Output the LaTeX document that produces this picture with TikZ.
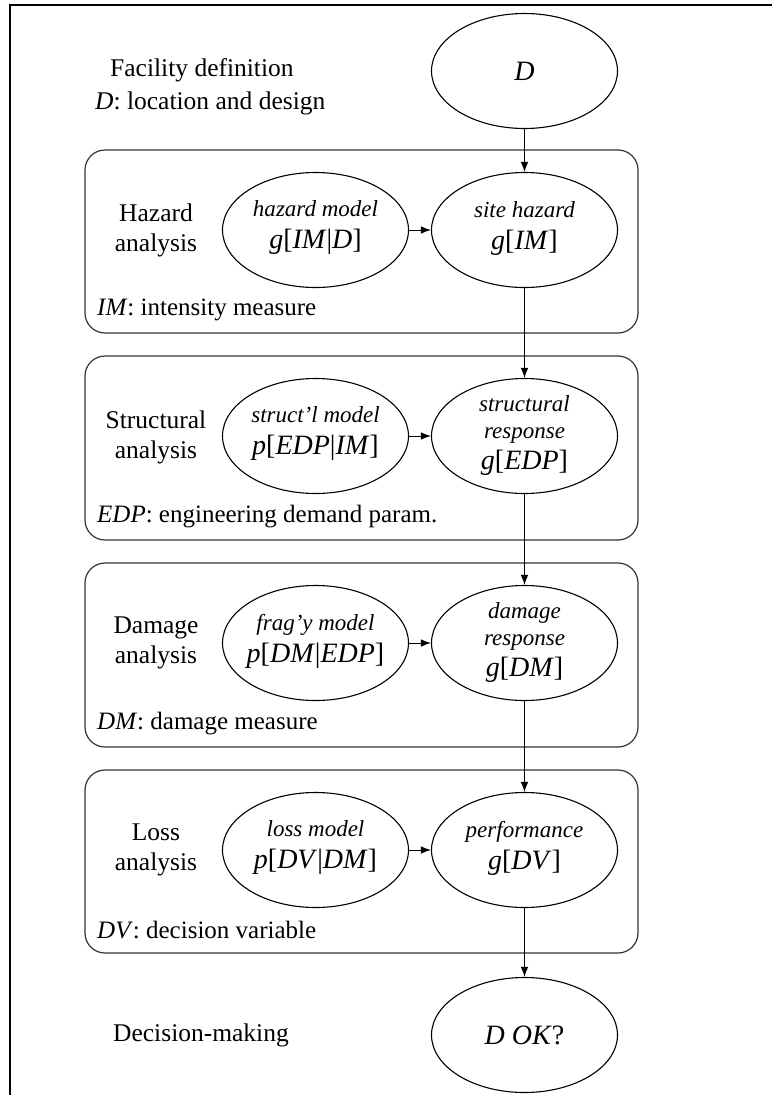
\documentclass[tikz,border=0pt]{standalone}
\usepackage{fontspec}
\setmainfont{Liberation Serif}
\usetikzlibrary{shapes.geometric,arrows.meta}
\newcommand\mdltxt[1]{{\fontsize{23}{27}\selectfont\itshape #1}}
\newcommand\fntxt[1]{{\fontsize{28}{27}\selectfont #1}}
\begin{document}
\begin{tikzpicture}[x=1pt,y=-1pt,
  stagebox/.style={draw=black!80,line width=1.2pt,rounded corners=20pt},
  ell/.style={ellipse,draw,line width=1.1pt,inner sep=0pt,minimum width=186pt,minimum height=115pt},
  etext/.style={align=center,inner sep=0pt,font=\fontsize{23}{27}\selectfont},
  lbl/.style={font=\fontsize{25.5}{30}\selectfont,align=center},
  note/.style={font=\fontsize{25}{30}\selectfont,anchor=west,inner sep=0pt},
  arr/.style={-{Latex[length=10pt,width=7.5pt]},line width=1pt}]
\useasboundingbox (0,0) rectangle (772,1095);
\draw[line width=2.7pt] (10,1095) -- (10,5) -- (772,5);

% facility
\node[note,font=\fontsize{25.5}{30}\selectfont] (fac1) at (110,70) {Facility definition};
\node[note,font=\fontsize{25.5}{30}\selectfont] (fac2) at (95,103) {\textit{D}: location and design};
\node[ell] (D) at (524.5,71) {};
\node[etext] (Dt) at (D) {\fntxt{\textit{D}}};

% hazard
\draw[stagebox] (85,150) rectangle (638,333);
\node[lbl] (hazl) at (156,230) {Hazard\\analysis};
\node[ell] (hm) at (315.5,230) {};
\node[etext] (hmt) at ([yshift=2pt]hm.center) {\mdltxt{hazard model}\\[5pt]\fntxt{\textit{g}[\textit{IM}|\textit{D}]}};
\node[ell] (sh) at (524.5,230) {};
\node[etext] (sht) at ([yshift=2pt]sh.center) {\mdltxt{site hazard}\\[5pt]\fntxt{\textit{g}[\textit{IM}]}};
\node[note] (imn) at (97,310) {\textit{IM}: intensity measure};

% structural
\draw[stagebox] (85,356) rectangle (638,540);
\node[lbl] (strl) at (156,437) {Structural\\analysis};
\node[ell] (sm) at (315.5,436) {};
\node[etext] (smt) at ([yshift=2pt]sm.center) {\mdltxt{struct'l model}\\[5pt]\fntxt{\textit{p}[\textit{EDP}|\textit{IM}]}};
\node[ell] (sr) at (524.5,436) {};
\node[etext] (srt) at ([yshift=1pt]sr.center) {\mdltxt{structural}\\\mdltxt{response}\\[4pt]\fntxt{\textit{g}[\textit{EDP}]}};
\node[note] (edpn) at (97,517) {\textit{EDP}: engineering demand param.};

% damage
\draw[stagebox] (85,563) rectangle (638,747);
\node[lbl] (daml) at (156,643) {Damage\\analysis};
\node[ell] (fm) at (315.5,643) {};
\node[etext] (fmt) at ([yshift=2pt]fm.center) {\mdltxt{frag'y model}\\[5pt]\fntxt{\textit{p}[\textit{DM}|\textit{EDP}]}};
\node[ell] (dr) at (524.5,643) {};
\node[etext] (drt) at ([yshift=1pt]dr.center) {\mdltxt{damage}\\\mdltxt{response}\\[4pt]\fntxt{\textit{g}[\textit{DM}]}};
\node[note] (dmn) at (97,724) {\textit{DM}: damage measure};

% loss
\draw[stagebox] (85,770) rectangle (638,953);
\node[lbl] (losl) at (156,850) {Loss\\analysis};
\node[ell] (lm) at (315.5,850) {};
\node[etext] (lmt) at ([yshift=2pt]lm.center) {\mdltxt{loss model}\\[5pt]\fntxt{\textit{p}[\textit{DV}|\textit{DM}]}};
\node[ell] (pf) at (524.5,850) {};
\node[etext] (pft) at ([yshift=2pt]pf.center) {\mdltxt{performance}\\[5pt]\fntxt{\textit{g}[\textit{DV}]}};
\node[note] (dvn) at (97,930) {\textit{DV}: decision variable};

% decision
\node[lbl] (decl) at (201,1035) {Decision-making};
\node[ell] (ok) at (524.5,1035) {};
\node[etext] (okt) at (ok) {\fntxt{\textit{D OK}?}};

% connectors
\draw[arr] (D) -- (sh);
\draw[arr] (hm) -- (sh);
\draw[arr] (sh) -- (sr);
\draw[arr] (sm) -- (sr);
\draw[arr] (sr) -- (dr);
\draw[arr] (fm) -- (dr);
\draw[arr] (dr) -- (pf);
\draw[arr] (lm) -- (pf);
\draw[arr] (pf) -- (ok);
\end{tikzpicture}
\end{document}
